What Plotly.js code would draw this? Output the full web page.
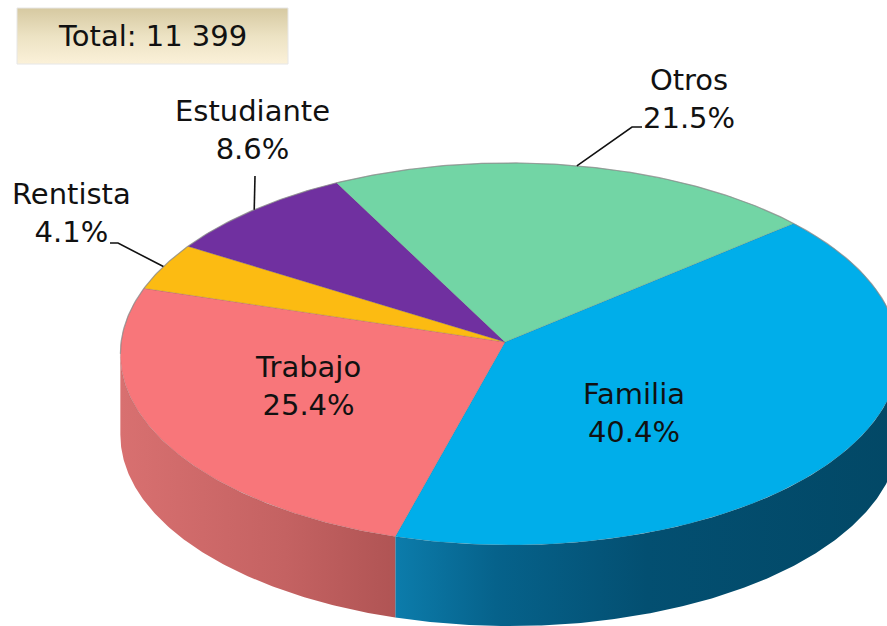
<!DOCTYPE html>
<html>
<head>
<meta charset="utf-8">
<script src="https://cdn.plot.ly/plotly-3.0.1.min.js"></script>
<style>html,body{margin:0;padding:0;background:#fff;}#chart{width:887px;height:626px;}</style>
</head>
<body>
<div id="chart"></div>
<script>
// ---- data ----
const categories = ['Familia', 'Trabajo', 'Rentista', 'Estudiante', 'Otros'];
const shares = [40.4, 25.4, 4.1, 8.6, 21.5];
const total = 11399;

// ---- styles ----
const topColors = ['#00aeea', '#f8767a', '#fcbb12', '#7030a0', '#72d5a5'];
const sideScales = {
  'Familia': [[0, '#0c7cab'], [0.2, '#06628b'], [0.5, '#034f71'], [1, '#024866']],
  'Trabajo': [[0, '#d87070'], [0.6, '#c46262'], [1, '#b05454']]
};
const labelPos = {
  'Familia': [634, 413], 'Trabajo': [308, 386], 'Rentista': [71, 213],
  'Estudiante': [252, 130], 'Otros': [689, 99]
};
const leaderElbows = {
  'Otros': [[632, 127], [642, 127]],
  'Estudiante': [[255, 176]],
  'Rentista': [[118, 243], [110, 243]]
};

// ---- perspective pie geometry (pixel space) ----
const G = {px: 505, py: 342, A: 388.5, B: 190.3, e: 0.0628, g: 0.012, depth: 81, t0: -40};
function pt(deg, dy) {
  const t = deg * Math.PI / 180;
  const den = 1 - G.e * Math.sin(t) - G.g * Math.cos(t);
  return [G.px + G.A * Math.cos(t) / den, G.py + G.B * Math.sin(t) / den + (dy || 0)];
}
function arc(a, b, dy) {
  const xs = [], ys = [];
  const n = Math.max(2, Math.ceil(Math.abs(b - a) / 0.5));
  for (let i = 0; i <= n; i++) {
    const p = pt(a + (b - a) * i / n, dy);
    xs.push(p[0]); ys.push(p[1]);
  }
  return [xs, ys];
}

const sum = shares.reduce((s, v) => s + v, 0);
const starts = [], ends = [];
let acc = G.t0;
shares.forEach(v => { starts.push(acc); acc += v / sum * 360; ends.push(acc); });

const traces = [];
const visA = Math.asin(G.e) * 180 / Math.PI, visB = 180 - visA;

// sides
categories.forEach((c, i) => {
  const a = Math.max(starts[i], visA), b = Math.min(ends[i], visB);
  if (b <= a) return;
  const top = arc(a, b, 0), bot = arc(b, a, G.depth);
  const xs = top[0].concat(bot[0]), ys = top[1].concat(bot[1]);
  xs.push(xs[0]); ys.push(ys[0]);
  traces.push({
    type: 'scatter', mode: 'lines', x: xs, y: ys, fill: 'toself',
    fillcolor: topColors[i],
    fillgradient: {type: 'horizontal', colorscale: sideScales[c] || [[0, topColors[i]], [1, topColors[i]]],
                   start: Math.min.apply(null, xs), stop: Math.max.apply(null, xs)},
    line: {width: 0}, hoverinfo: 'skip', showlegend: false
  });
});

// top face slices
categories.forEach((c, i) => {
  const a = arc(starts[i], ends[i], 0);
  const xs = [G.px].concat(a[0], [G.px]), ys = [G.py].concat(a[1], [G.py]);
  traces.push({
    type: 'scatter', mode: 'lines', x: xs, y: ys, fill: 'toself',
    fillcolor: topColors[i], line: {width: 0.8, color: 'rgba(90,90,90,0.25)'},
    hoverinfo: 'skip', showlegend: false
  });
});

// far rim outline
const rim = arc(visB, 360 + visA, 0);
traces.push({type: 'scatter', mode: 'lines', x: rim[0], y: rim[1],
  line: {width: 1.2, color: 'rgba(140,140,140,0.7)'}, hoverinfo: 'skip', showlegend: false});

// leader lines from slice mid-angle
Object.keys(leaderElbows).forEach(c => {
  const i = categories.indexOf(c);
  const p = pt((starts[i] + ends[i]) / 2, 0);
  const xs = [p[0]], ys = [p[1]];
  leaderElbows[c].forEach(q => { xs.push(q[0]); ys.push(q[1]); });
  traces.push({type: 'scatter', mode: 'lines', x: xs, y: ys,
    line: {width: 1.6, color: '#111'}, hoverinfo: 'skip', showlegend: false});
});

// total box
const box = {x0: 17, x1: 288, y0: 8, y1: 64};
traces.push({type: 'scatter', mode: 'lines',
  x: [box.x0, box.x1, box.x1, box.x0, box.x0], y: [box.y0, box.y0, box.y1, box.y1, box.y0],
  fill: 'toself', fillcolor: '#ece0c0',
  fillgradient: {type: 'vertical', colorscale: [[0, '#d6c9a1'], [0.5, '#ece2c3'], [1, '#fbf1d9']], start: box.y0, stop: box.y1},
  line: {width: 1, color: '#e6e6e6'}, hoverinfo: 'skip', showlegend: false});

const fmt = n => String(n).replace(/\B(?=(\d{3})+(?!\d))/g, ' ');
const annotations = categories.map((c, i) => ({
  x: labelPos[c][0], y: labelPos[c][1], xref: 'x', yref: 'y',
  text: c + '<br>' + shares[i].toFixed(1) + '%', showarrow: false,
  xanchor: 'center', yanchor: 'middle', align: 'center',
  font: {family: 'DejaVu Sans', size: 29, color: '#111'}
}));
annotations.push({x: 152, y: 36, xref: 'x', yref: 'y', text: 'Total: ' + fmt(total),
  showarrow: false, xanchor: 'center', yanchor: 'middle',
  font: {family: 'DejaVu Sans', size: 29, color: '#111'}});

const layout = {
  width: 887, height: 626, margin: {l: 0, r: 0, t: 0, b: 0},
  paper_bgcolor: '#ffffff', plot_bgcolor: '#ffffff',
  xaxis: {range: [0, 887], visible: false, fixedrange: true},
  yaxis: {range: [626, 0], visible: false, fixedrange: true},
  annotations: annotations, showlegend: false
};
Plotly.newPlot('chart', traces, layout, {displayModeBar: false, staticPlot: true});
</script>
</body>
</html>
